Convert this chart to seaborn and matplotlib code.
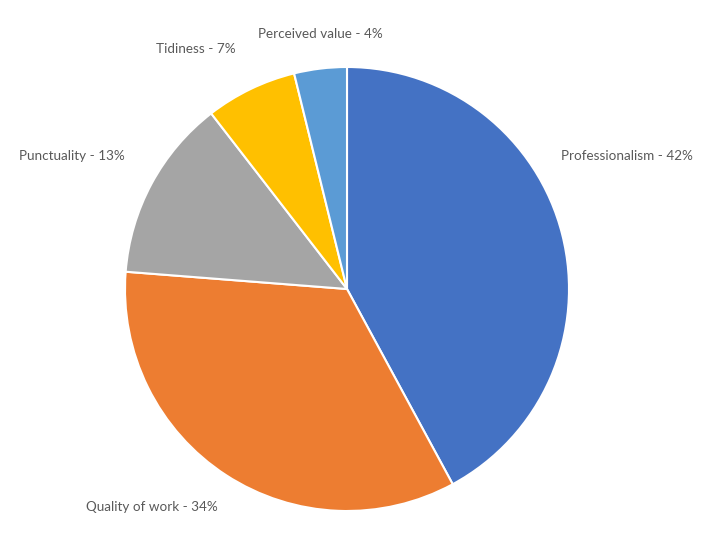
import matplotlib
matplotlib.use("Agg")
import matplotlib.pyplot as plt
import seaborn as sns
import numpy as np

categories = ["Professionalism", "Quality of work", "Punctuality", "Tidiness", "Perceived value"]
values = [42.10, 34.14, 13.28, 6.65, 3.83]
label_pct = [42, 34, 13, 7, 4]
colors = ["#4472C4", "#ED7D31", "#A5A5A5", "#FFC000", "#5B9BD5"]
# label centre offsets (in pie-radius units)
label_pos = [(1.26, 0.60), (-0.88, -0.98), (-1.24, 0.60), (-0.68, 1.08), (-0.12, 1.15)]

sns.set_theme(style="white")
plt.rcParams['font.family'] = ['Lato', 'DejaVu Sans']

fig = plt.figure(figsize=(7.05, 5.36), dpi=100)
ax = fig.add_axes([0, 0, 1, 1])
ax.pie(values, colors=colors, startangle=90, counterclock=False,
       wedgeprops=dict(edgecolor="white", linewidth=1.5), radius=1.0)
ax.set_aspect("auto")
ax.set_xlim(-347/222, (705-347)/222)
ax.set_ylim(-(536-289)/222, 289/222)
ax.axis("off")

for cat, v, (lx, ly) in zip(categories, label_pct, label_pos):
    ax.text(lx, ly, f"{cat} - {v}%", ha="center", va="center",
            fontsize=9.7, color="#595959")

fig.savefig("out.png", dpi=100)
